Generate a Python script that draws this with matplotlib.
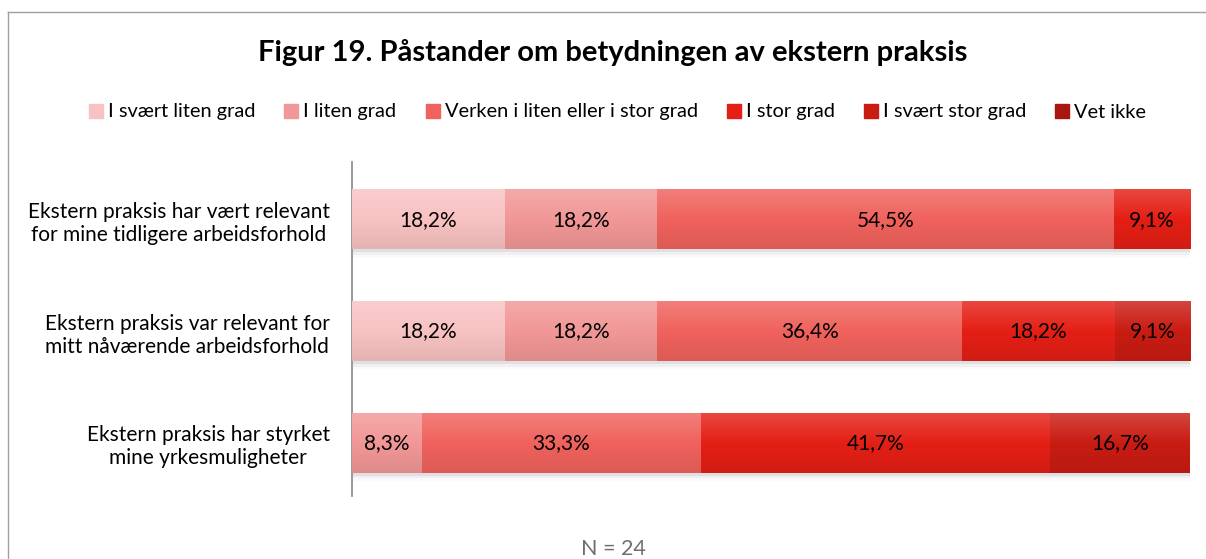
import matplotlib.pyplot as plt
import matplotlib.colors as mcolors
from matplotlib.patches import Rectangle
from matplotlib.lines import Line2D
import numpy as np

plt.rcParams['font.family'] = ['Lato', 'DejaVu Sans']

# data
statements = [
    "Ekstern praksis har vært relevant\nfor mine tidligere arbeidsforhold",
    "Ekstern praksis var relevant for\nmitt nåværende arbeidsforhold",
    "Ekstern praksis har styrket\nmine yrkesmuligheter",
]
categories = ["I svært liten grad", "I liten grad", "Verken i liten eller i stor grad",
              "I stor grad", "I svært stor grad", "Vet ikke"]
svaert_liten = [18.2, 18.2, 0.0]
liten = [18.2, 18.2, 8.3]
verken = [54.5, 36.4, 33.3]
stor = [9.1, 18.2, 41.7]
svaert_stor = [0.0, 9.1, 16.7]
vet_ikke = [0.0, 0.0, 0.0]
series = [svaert_liten, liten, verken, stor, svaert_stor, vet_ikke]

colors = ['#F8C2C2', '#F29797', '#F0625D', '#E41F15', '#C91C13', '#A9150F']


def shade(c, f):
    r, g, b = mcolors.to_rgb(c)
    if f > 0:
        return (r + (1 - r) * f, g + (1 - g) * f, b + (1 - b) * f)
    return (r * (1 + f), g * (1 + f), b * (1 + f))


def gradient_img(c):
    top = shade(c, 0.18)
    mid = mcolors.to_rgb(c)
    bot = shade(c, -0.08)
    n = 40
    rows = []
    for i in range(n):
        t = i / (n - 1)
        if t < 0.5:
            s = t / 0.5
            rows.append([top[k] + (mid[k] - top[k]) * s for k in range(3)])
        else:
            s = (t - 0.5) / 0.5
            rows.append([mid[k] + (bot[k] - mid[k]) * s for k in range(3)])
    return np.array(rows)[:, None, :]


W, H = 1206, 559
fig = plt.figure(figsize=(W / 100, H / 100), dpi=100)
ax = fig.add_axes([352 / W, 1 - 499 / H, (1190 - 352) / W, 335 / H])

y = np.arange(len(statements))
left = np.zeros(len(statements))
bar_h = 0.53
for vals, col, name in zip(series, colors, categories):
    bars = ax.barh(y, vals, left=left, height=bar_h, color=col, label=name,
                   linewidth=0, zorder=2)
    for b, v in zip(bars, vals):
        if v <= 0:
            continue
        x0, y0 = b.get_x(), b.get_y()
        w, h = b.get_width(), b.get_height()
        # soft shadow under the bar
        for k, a in enumerate([0.10, 0.06, 0.03]):
            ax.add_patch(Rectangle((x0 + 0.15, y0 + h), w, 0.025 * (k + 1),
                                   color='#606060', alpha=a, lw=0, zorder=1))
        ax.imshow(gradient_img(col), extent=(x0, x0 + w, y0 + h, y0),
                  aspect='auto', zorder=3, interpolation='bilinear')
        ax.text(x0 + w / 2, y0 + h / 2, f"{v:.1f}%".replace('.', ','),
                ha='center', va='center', fontsize=15, color='black', zorder=4)
    left += np.array(vals)

ax.set_xlim(0, 100)
ax.set_ylim(2.5, -0.5)
ax.set_yticks(y)
ax.set_yticklabels(statements, fontsize=15, multialignment='center')
ax.tick_params(axis='y', length=0, pad=16)
ax.set_xticks([])
for s in ['top', 'right', 'bottom']:
    ax.spines[s].set_visible(False)
ax.spines['left'].set_color('#868686')
ax.spines['left'].set_linewidth(1.2)
ax.spines['left'].set_bounds(2.47, -0.52)

handles = [Rectangle((0, 0), 1, 1, color=c) for c in colors]
fig.legend(handles, categories, loc='center', bbox_to_anchor=(0.512, 1 - 112 / H), ncol=6,
           frameon=False, fontsize=14.4, handlelength=0.7, handleheight=0.7,
           handletextpad=0.25, columnspacing=1.45)

fig.text(0.508, 1 - 53 / H, "Figur 19. Påstander om betydningen av ekstern praksis",
         ha='center', va='center', fontsize=21, fontweight='bold')
fig.text(0.509, 1 - 549 / H, "N = 24", ha='center', va='center',
         fontsize=15.5, color='#6F6F6F')

# outer frame (top and left edges visible)
fig.add_artist(Line2D([8 / W, 1], [1 - 12 / H] * 2, color='#A0A0A0', lw=1))
fig.add_artist(Line2D([8 / W] * 2, [0, 1 - 12 / H], color='#A0A0A0', lw=1))

fig.savefig('out.png', dpi=100)
